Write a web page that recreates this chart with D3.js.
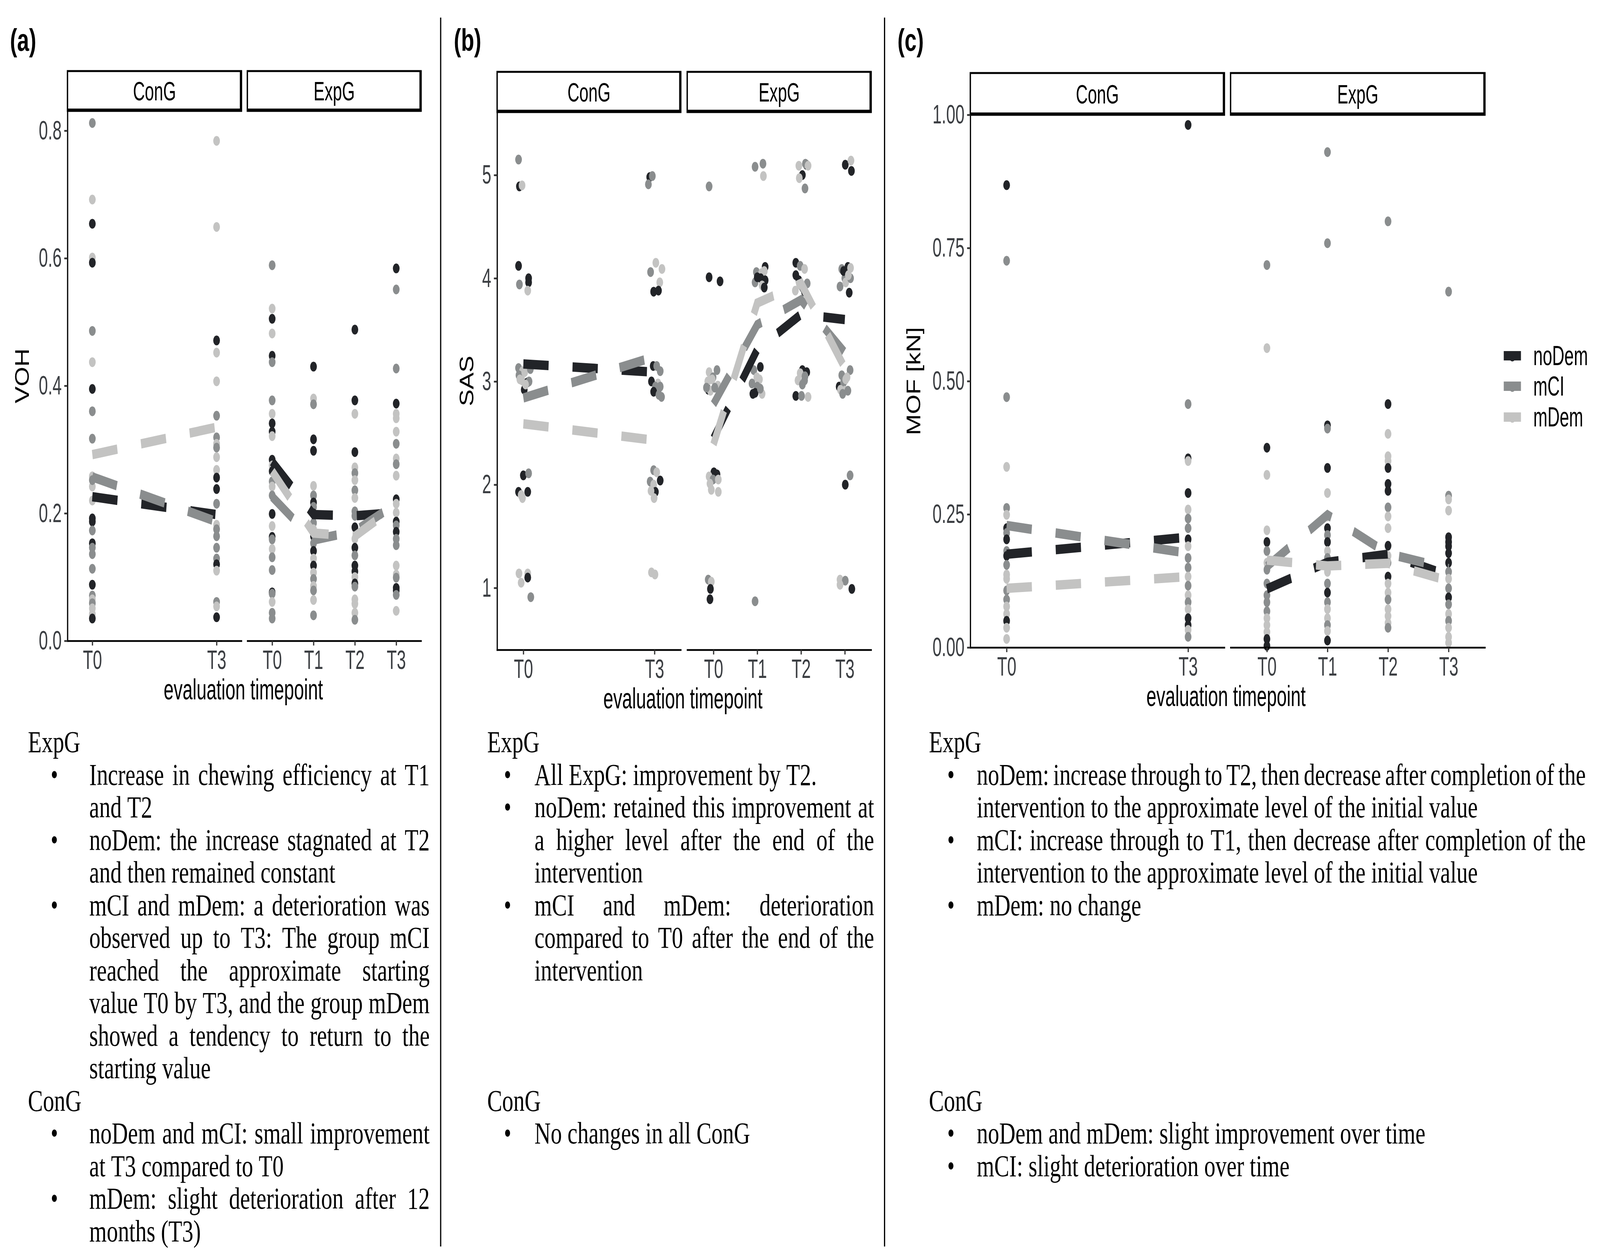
<!DOCTYPE html>
<html>
<head>
<meta charset="utf-8">
<script src="https://cdn.jsdelivr.net/npm/d3@7"></script>
<style>html,body{margin:0;padding:0;background:#fff;overflow:hidden}</style>
</head>
<body>
<div id="fig"></div>
<script>
var groups = ['noDem', 'mCI', 'mDem'];
var timepoints = ['T0', 'T1', 'T2', 'T3'];
var groupColors = ['#222428', '#8a8d8e', '#c3c3c2'];

// points are [group index, value] ; SAS points also carry a horizontal jitter in steps
var vohConG_T0 = [[1,0.812],[2,0.692],[0,0.654],[2,0.601],[0,0.593],[1,0.486],[2,0.437],[0,0.395],[1,0.360],[1,0.317],[2,0.258],[2,0.242],[1,0.252],[2,0.220],[0,0.192],[0,0.187],[1,0.173],[0,0.153],[1,0.146],[1,0.136],[1,0.113],[0,0.088],[1,0.071],[2,0.065],[1,0.059],[2,0.051],[2,0.042],[0,0.035]];
var vohConG_T3 = [[2,0.784],[2,0.649],[0,0.471],[2,0.452],[2,0.407],[1,0.353],[1,0.319],[2,0.309],[1,0.303],[2,0.288],[2,0.268],[0,0.256],[0,0.238],[1,0.215],[2,0.182],[1,0.175],[1,0.164],[1,0.146],[1,0.129],[0,0.120],[2,0.110],[1,0.061],[2,0.054],[0,0.037]];
var vohExpG_T0 = [[1,0.589],[2,0.521],[0,0.505],[2,0.482],[0,0.447],[1,0.437],[1,0.377],[2,0.356],[0,0.341],[0,0.328],[2,0.321],[0,0.284],[2,0.275],[0,0.266],[1,0.250],[2,0.242],[1,0.228],[0,0.199],[2,0.180],[0,0.163],[1,0.159],[2,0.144],[1,0.131],[1,0.111],[0,0.076],[1,0.074],[2,0.061],[1,0.044],[1,0.035]];
var vohExpG_T1 = [[0,0.430],[2,0.380],[1,0.371],[0,0.316],[0,0.298],[2,0.243],[1,0.228],[0,0.217],[1,0.210],[0,0.200],[1,0.185],[2,0.175],[0,0.164],[1,0.153],[0,0.141],[2,0.129],[0,0.118],[2,0.107],[1,0.097],[2,0.086],[1,0.079],[2,0.064],[1,0.040]];
var vohExpG_T2 = [[0,0.488],[0,0.377],[2,0.356],[0,0.296],[2,0.272],[1,0.263],[2,0.252],[1,0.236],[2,0.224],[1,0.203],[1,0.196],[0,0.178],[2,0.160],[0,0.146],[1,0.134],[0,0.118],[0,0.109],[2,0.100],[0,0.090],[1,0.085],[2,0.065],[2,0.058],[2,0.044],[1,0.033]];
var vohExpG_T3 = [[0,0.584],[1,0.551],[1,0.427],[0,0.372],[2,0.356],[2,0.349],[2,0.328],[1,0.309],[2,0.286],[1,0.277],[2,0.259],[0,0.222],[2,0.215],[2,0.201],[0,0.187],[1,0.181],[0,0.171],[1,0.160],[1,0.150],[2,0.118],[2,0.104],[1,0.099],[0,0.083],[0,0.079],[1,0.072],[2,0.047]];
var vohMeansConG = [[0.226,0.198],[0.257,0.187],[0.292,0.335]];
var vohMeansExpG = [[0.281,0.198,0.196,0.201],[0.226,0.158,0.172,0.215],[0.266,0.169,0.164,0.212]];

var sasConG_T0 = [[1,5.15,-0.11],[0,4.89,-0.09],[2,4.90,-0.03],[0,4.12,-0.11],[0,4.00,0.12],[0,3.96,0.12],[1,3.94,-0.09],[2,3.88,0.10],[1,3.13,-0.11],[2,3.10,-0.02],[1,3.06,-0.10],[2,3.09,0.03],[1,3.12,0.16],[2,3.01,-0.03],[0,2.99,0.09],[0,2.92,0.02],[2,3.02,-0.08],[1,3.00,0.13],[2,2.97,0.05],[0,2.09,0.00],[1,2.11,0.12],[0,1.93,-0.11],[0,1.93,0.10],[2,1.87,-0.02],[2,1.90,-0.05],[2,1.14,-0.10],[2,1.14,0.10],[0,1.10,0.10],[2,1.05,-0.05],[1,0.91,0.17]];
var sasConG_T3 = [[0,4.98,-0.11],[1,4.99,-0.05],[1,4.91,-0.14],[2,4.15,0.03],[2,4.09,0.17],[1,4.06,-0.09],[2,3.96,0.12],[0,3.87,-0.02],[0,3.88,0.09],[0,3.15,-0.03],[1,3.15,0.05],[1,3.10,0.13],[0,3.00,-0.07],[2,2.98,0.08],[1,2.95,0.02],[1,2.95,0.13],[0,2.90,-0.02],[1,2.85,0.16],[1,2.87,0.10],[1,2.14,-0.02],[2,2.12,0.05],[0,2.04,0.13],[1,2.03,-0.10],[2,2.00,-0.02],[0,1.93,0.02],[2,1.94,-0.08],[2,1.87,-0.01],[2,1.15,-0.07],[2,1.13,0.01]];
var sasExpG_T0 = [[1,4.89,-0.10],[0,4.01,-0.10],[0,3.97,0.15],[2,3.09,-0.10],[1,3.11,0.08],[1,3.04,-0.01],[2,3.00,-0.13],[2,3.02,-0.03],[2,2.96,0.10],[0,2.92,-0.12],[2,2.91,-0.07],[1,2.94,0.03],[1,2.94,-0.16],[0,2.12,0.01],[0,2.10,0.08],[2,2.08,-0.10],[1,2.05,-0.01],[2,2.05,0.11],[2,2.01,-0.08],[2,1.95,-0.05],[2,1.93,0.11],[1,1.08,-0.12],[2,1.06,-0.05],[0,0.99,-0.07],[0,0.89,-0.08]];
var sasExpG_T1 = [[1,5.08,-0.05],[1,5.11,0.13],[2,4.99,0.14],[0,4.11,0.18],[1,4.06,-0.02],[2,4.05,0.10],[2,4.07,0.16],[1,3.96,-0.05],[0,4.00,0.08],[0,3.98,0.18],[2,3.93,0.11],[0,3.91,0.16],[0,4.01,0.00],[0,3.14,0.07],[1,3.11,-0.08],[2,3.04,-0.01],[2,3.02,0.05],[1,2.98,-0.12],[1,2.95,0.00],[0,2.89,-0.05],[2,2.88,0.11],[0,2.88,-0.10],[1,2.93,0.07],[1,0.87,-0.05]];
var sasExpG_T2 = [[2,5.09,-0.05],[0,5.10,0.12],[1,5.11,0.10],[2,5.09,0.16],[0,5.00,0.03],[2,4.97,-0.04],[1,4.87,0.09],[0,4.15,-0.12],[1,4.12,-0.02],[2,4.09,0.08],[0,4.03,-0.12],[0,3.98,-0.05],[1,3.95,0.14],[1,3.91,0.03],[2,3.88,-0.13],[0,3.87,0.08],[0,3.11,0.03],[0,3.09,0.13],[2,3.08,-0.02],[1,3.05,0.09],[2,3.01,-0.07],[1,2.97,0.03],[0,2.86,-0.12],[1,2.86,0.01],[2,2.85,0.16],[1,3.01,0.08]];
var sasExpG_T3 = [[0,5.10,0.01],[2,5.14,0.14],[0,5.04,0.15],[1,3.92,-0.11],[1,4.00,0.00],[0,4.11,0.07],[2,4.10,0.13],[1,4.09,-0.07],[2,3.96,0.02],[1,4.00,0.13],[0,3.86,0.10],[0,4.07,-0.03],[2,4.03,0.08],[1,3.06,-0.07],[1,3.11,0.12],[2,3.04,0.05],[0,2.95,-0.13],[1,2.99,-0.03],[2,2.92,-0.10],[2,2.91,0.00],[1,2.88,-0.05],[2,3.02,0.02],[1,2.91,0.07],[1,2.09,0.12],[0,2.00,0.01],[2,1.08,-0.11],[1,1.07,0.01],[2,1.03,-0.11],[0,0.99,0.16]];
var sasMeansConG = [[3.17,3.09],[2.84,3.24],[2.59,2.43]];
var sasMeansExpG = [[2.45,3.31,3.65,3.60],[2.78,3.55,3.79,3.28],[2.39,3.76,3.95,3.13]];

var mofConG_T0 = [[0,0.868],[1,0.726],[1,0.470],[2,0.339],[1,0.262],[2,0.249],[0,0.224],[1,0.215],[0,0.203],[1,0.181],[0,0.172],[1,0.155],[2,0.137],[2,0.129],[1,0.107],[1,0.090],[2,0.077],[2,0.063],[0,0.050],[2,0.037],[2,0.016]];
var mofConG_T3 = [[0,0.981],[1,0.457],[0,0.355],[2,0.350],[0,0.290],[2,0.259],[1,0.242],[1,0.224],[0,0.203],[2,0.190],[1,0.168],[1,0.150],[2,0.133],[1,0.116],[2,0.098],[1,0.085],[2,0.072],[0,0.055],[0,0.042],[2,0.033],[1,0.020]];
var mofExpG_T0 = [[1,0.718],[2,0.562],[0,0.375],[2,0.324],[2,0.220],[0,0.198],[1,0.181],[2,0.159],[1,0.146],[1,0.120],[1,0.098],[1,0.085],[1,0.068],[2,0.055],[2,0.042],[2,0.029],[0,0.016],[0,0.003]];
var mofExpG_T1 = [[1,0.930],[1,0.759],[0,0.417],[1,0.411],[0,0.337],[2,0.290],[2,0.246],[0,0.224],[1,0.211],[0,0.198],[2,0.181],[1,0.168],[0,0.155],[2,0.142],[1,0.120],[0,0.103],[1,0.085],[2,0.072],[2,0.055],[1,0.042],[2,0.031],[0,0.013]];
var mofExpG_T2 = [[1,0.800],[0,0.457],[2,0.401],[2,0.359],[2,0.350],[0,0.337],[0,0.307],[0,0.294],[1,0.263],[2,0.246],[2,0.224],[0,0.191],[2,0.172],[1,0.159],[0,0.133],[2,0.120],[2,0.103],[1,0.090],[2,0.072],[2,0.059],[2,0.046],[1,0.037]];
var mofExpG_T3 = [[1,0.668],[1,0.285],[2,0.278],[2,0.257],[0,0.207],[0,0.198],[0,0.190],[0,0.177],[0,0.159],[1,0.142],[2,0.129],[1,0.111],[0,0.094],[1,0.081],[2,0.063],[1,0.050],[2,0.037],[2,0.020],[2,0.009]];
var mofMeansConG = [[0.175,0.207],[0.229,0.177],[0.111,0.133]];
var mofMeansExpG = [[0.110,0.160,0.175,0.135],[0.152,0.249,0.176,0.148],[0.164,0.153,0.158,0.125]];

var vohTicks = [0, 0.2, 0.4, 0.6, 0.8];
var sasTicks = [1, 2, 3, 4, 5];
var mofTicks = [0, 0.25, 0.5, 0.75, 1];

// note lines: [row, kind (h heading / b bullet / c continuation), text, justified]
var notesA = [
  [0,'h','ExpG'],
  [1,'b','Increase in chewing efficiency at T1',1],
  [2,'c','and T2',0],
  [3,'b','noDem: the increase stagnated at T2',1],
  [4,'c','and then remained constant',0],
  [5,'b','mCI and mDem: a deterioration was',1],
  [6,'c','observed up to T3: The group mCI',1],
  [7,'c','reached the approximate starting',1],
  [8,'c','value T0 by T3, and the group mDem',1],
  [9,'c','showed a tendency to return to the',1],
  [10,'c','starting value',0],
  [11,'h','ConG'],
  [12,'b','noDem and mCI: small improvement',1],
  [13,'c','at T3 compared to T0',0],
  [14,'b','mDem: slight deterioration after 12',1],
  [15,'c','months (T3)',0]
];
var notesB = [
  [0,'h','ExpG'],
  [1,'b','All ExpG: improvement by T2.',0],
  [2,'b','noDem: retained this improvement at',1],
  [3,'c','a higher level after the end of the',1],
  [4,'c','intervention',0],
  [5,'b','mCI and mDem: deterioration',1],
  [6,'c','compared to T0 after the end of the',1],
  [7,'c','intervention',0],
  [11,'h','ConG'],
  [12,'b','No changes in all ConG',0]
];
var notesC = [
  [0,'h','ExpG'],
  [1,'b','noDem: increase through to T2, then decrease after completion of the',1],
  [2,'c','intervention to the approximate level of the initial value',0],
  [3,'b','mCI: increase through to T1, then decrease after completion of the',1],
  [4,'c','intervention to the approximate level of the initial value',0],
  [5,'b','mDem: no change',0],
  [11,'h','ConG'],
  [12,'b','noDem and mDem: slight improvement over time',0],
  [13,'b','mCI: slight deterioration over time',0]
];

var SANS = "'Liberation Sans', Arial, sans-serif";
var SERIF = "'Liberation Serif', 'Times New Roman', serif";
var SX = 0.9;

window.onload = function(){

  // the drawing is laid out in 5951 x 3224 units and stretched onto the window
  var svg = d3.select('#fig').append('svg')
    .attr('viewBox', '0 0 5951 3224')
    .attr('preserveAspectRatio', 'none')
    .style('width', '100vw').style('height', '100vh')
    .style('display', 'block');

  drawPanel(svg, {
    label: '(a)', labelX: 37, yTitle: 'VOH', yTitleX: 82, titleX: 905,
    domain: [0, 0.831], ticks: vohTicks, fmt: d3.format('.1f'),
    stripTop: 182, top: 284, bottom: 1641,
    facets: [
      {name: 'ConG', x0: 251, x1: 898, times: ['T0','T3'], points: [vohConG_T0, vohConG_T3], means: vohMeansConG},
      {name: 'ExpG', x0: 920, x1: 1566, times: timepoints, points: [vohExpG_T0, vohExpG_T1, vohExpG_T2, vohExpG_T3], means: vohMeansExpG}
    ]
  });

  drawPanel(svg, {
    label: '(b)', labelX: 1688, yTitle: 'SAS', yTitleX: 1735, titleX: 2540,
    domain: [0.40, 5.61], ticks: sasTicks, fmt: d3.format('d'),
    stripTop: 184, top: 287, bottom: 1664,
    facets: [
      {name: 'ConG', x0: 1849, x1: 2532, times: ['T0','T3'], points: [sasConG_T0, sasConG_T3], means: sasMeansConG},
      {name: 'ExpG', x0: 2556, x1: 3240, times: timepoints, points: [sasExpG_T0, sasExpG_T1, sasExpG_T2, sasExpG_T3], means: sasMeansExpG}
    ]
  });

  drawPanel(svg, {
    label: '(c)', labelX: 3338, yTitle: 'MOF [kN]', yTitleX: 3397, titleX: 4560,
    domain: [0, 1], ticks: mofTicks, fmt: d3.format('.2f'),
    stripTop: 187, top: 294, bottom: 1658,
    facets: [
      {name: 'ConG', x0: 3609, x1: 4554, times: ['T0','T3'], points: [mofConG_T0, mofConG_T3], means: mofMeansConG},
      {name: 'ExpG', x0: 4577, x1: 5523, times: timepoints, points: [mofExpG_T0, mofExpG_T1, mofExpG_T2, mofExpG_T3], means: mofMeansExpG}
    ]
  });

  drawLegend(svg, 5593, [911, 989, 1068]);

  // separators between the three columns
  [1639, 3290].forEach(function(x){
    svg.append('line').attr('x1', x).attr('x2', x).attr('y1', 45).attr('y2', 3192)
      .attr('stroke', '#000').attr('stroke-width', 4.5);
  });

  drawNotes(svg, notesA, {headX: 104, bulletX: 202, textX: 332, textRight: 1598});
  drawNotes(svg, notesB, {headX: 1812, bulletX: 1888, textX: 1988, textRight: 3251});
  drawNotes(svg, notesC, {headX: 3455, bulletX: 3537, textX: 3633, textRight: 5898});
}

function addText(g, x, y, str, o){
  return g.append('text')
    .attr('transform', 'translate(' + x + ',' + y + ') scale(' + (o.sx || 1) + ',1)')
    .attr('text-anchor', o.anchor || 'start')
    .attr('font-size', o.size)
    .attr('font-family', o.family || SANS)
    .attr('font-weight', o.weight || null)
    .attr('fill', o.fill || '#000')
    .text(str);
}

function styleAxis(ax){
  ax.attr('font-size', null).attr('font-family', null);
  ax.select('.domain').attr('stroke', '#000').attr('stroke-width', 4.5).attr('stroke-linecap', 'square');
  ax.selectAll('.tick line').attr('stroke', '#333').attr('stroke-width', 4.5);
  ax.selectAll('.tick text')
    .attr('fill', '#3b3e42').attr('font-size', 68).attr('font-family', SANS)
    .attr('transform', 'scale(' + SX + ',1)');
}

function drawPanel(svg, p){
  var y = d3.scaleLinear().domain(p.domain).range([p.bottom, p.top]);

  addText(svg, p.labelX, 130, p.label, {size: 80, weight: 'bold'});

  p.facets.forEach(function(f, fi){
    var x = d3.scalePoint().domain(timepoints).range([f.x0, f.x1]).padding(0.6);
    var g = svg.append('g');

    g.append('rect')
      .attr('x', f.x0).attr('y', p.stripTop)
      .attr('width', f.x1 - f.x0).attr('height', p.top - p.stripTop)
      .attr('fill', '#fff').attr('stroke', '#000').attr('stroke-width', 5);
    g.append('path')
      .attr('d', 'M' + f.x0 + ',' + (p.top - 2) + 'H' + (f.x1 - 2) + 'V' + p.stripTop)
      .attr('fill', 'none').attr('stroke', '#000').attr('stroke-width', 8);
    addText(g, (f.x0 + f.x1) / 2, (p.stripTop + p.top) / 2 + 24, f.name, {size: 68, anchor: 'middle', sx: SX});

    f.times.forEach(function(t, k){
      g.append('g').selectAll('circle').data(f.points[k]).enter().append('circle')
        .attr('cx', function(d){ return x(t) + (d[2] || 0) * x.step(); })
        .attr('cy', function(d){ return y(d[1]); })
        .attr('r', 12.5)
        .attr('fill', function(d){ return groupColors[d[0]]; });
    });

    var line = d3.line()
      .x(function(d){ return x(d[0]); })
      .y(function(d){ return y(d[1]); });

    f.means.forEach(function(m, gi){
      g.append('path')
        .datum(f.times.map(function(t, k){ return [t, m[k]]; }))
        .attr('d', line)
        .attr('fill', 'none')
        .attr('stroke', groupColors[gi])
        .attr('stroke-width', 24)
        .attr('stroke-dasharray', '94 89')
        .attr('stroke-linejoin', 'miter')
        .attr('stroke-linecap', 'butt');
    });

    var gx = g.append('g').attr('transform', 'translate(0,' + p.bottom + ')')
      .call(d3.axisBottom(x).tickValues(f.times).tickSize(12).tickSizeOuter(0).tickPadding(12));
    styleAxis(gx);

    if (fi === 0) {
      var gy = g.append('g').attr('transform', 'translate(' + f.x0 + ',0)')
        .call(d3.axisLeft(y).tickValues(p.ticks).tickFormat(p.fmt).tickSize(12).tickSizeOuter(0).tickPadding(12));
      styleAxis(gy);
    }
  });

  addText(svg, p.titleX, p.bottom + 150, 'evaluation timepoint', {size: 74, anchor: 'middle', sx: SX});

  svg.append('text')
    .attr('transform', 'translate(' + p.yTitleX + ',' + ((p.top + p.bottom) / 2) + ') rotate(-90) scale(' + SX + ',1)')
    .attr('text-anchor', 'middle').attr('dy', '0.36em')
    .attr('font-size', 72).attr('font-family', SANS).attr('fill', '#000')
    .text(p.yTitle);
}

function drawLegend(svg, x0, ys){
  var g = svg.append('g');
  groups.forEach(function(name, i){
    g.append('circle').attr('cx', x0 + 32).attr('cy', ys[i] + 2).attr('r', 12.5).attr('fill', groupColors[i]);
    g.append('rect').attr('x', x0).attr('y', ys[i] - 12).attr('width', 64).attr('height', 24).attr('fill', groupColors[i]);
    addText(g, x0 + 110, ys[i] + 24, name, {size: 70, sx: SX});
  });
}

function drawNotes(svg, notes, c){
  var y0 = 1926, dy = 83.5, size = 78, sx = 1.07;
  var g = svg.append('g').attr('font-family', SERIF).attr('font-size', size).attr('fill', '#000');

  notes.forEach(function(n){
    var yb = y0 + n[0] * dy;
    if (n[1] === 'h') {
      addText(g, c.headX, yb, n[2], {size: size, family: SERIF, sx: sx});
      return;
    }
    if (n[1] === 'b') {
      addText(g, c.bulletX, yb, '\u2022', {size: size, family: SERIF, anchor: 'middle'});
    }
    var words = n[2].split(' ');
    var nodes = words.map(function(w){
      return addText(g, 0, yb, w, {size: size, family: SERIF, sx: sx});
    });
    var widths = nodes.map(function(t){ return t.node().getComputedTextLength() * sx; });
    var gap = n[3] ? (c.textRight - c.textX - d3.sum(widths)) / (words.length - 1) : size * 0.25 * sx;
    var x = c.textX;
    nodes.forEach(function(t, i){
      t.attr('transform', 'translate(' + x + ',' + yb + ') scale(' + sx + ',1)');
      x += widths[i] + gap;
    });
  });
}
</script>
</body>
</html>
